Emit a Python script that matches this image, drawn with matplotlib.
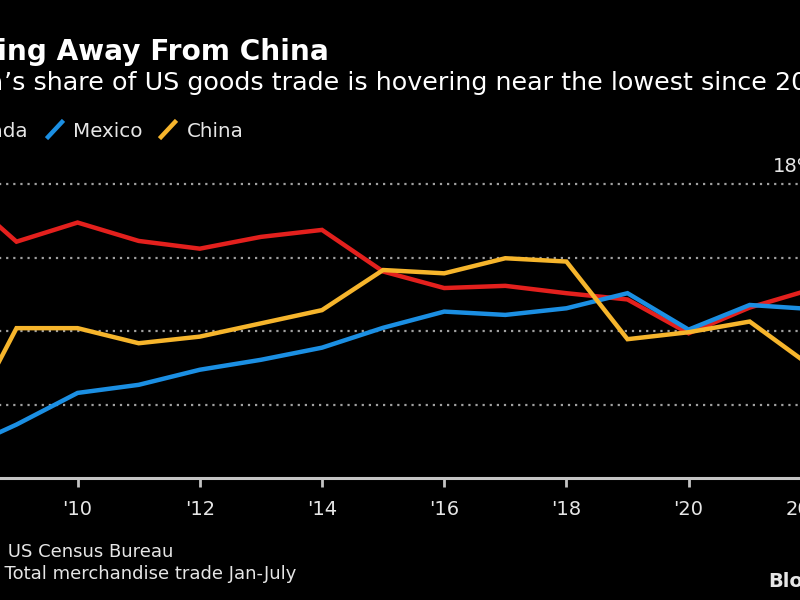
import matplotlib
matplotlib.use("Agg")
import matplotlib.pyplot as plt
from matplotlib.lines import Line2D

plt.rcParams['font.family'] = ['DejaVu Sans']

years = [2008, 2009, 2010, 2011, 2012, 2013, 2014, 2015, 2016, 2017, 2018, 2019, 2020, 2021, 2022]
canada = [17.9, 16.43, 16.95, 16.45, 16.24, 16.56, 16.75, 15.62, 15.17, 15.23, 15.03, 14.86, 13.94, 14.64, 15.13]
mexico = [10.7, 11.46, 12.32, 12.54, 12.95, 13.22, 13.55, 14.09, 14.53, 14.44, 14.62, 15.03, 14.04, 14.71, 14.6]
china = [10.9, 14.08, 14.08, 13.67, 13.85, 14.21, 14.57, 15.66, 15.57, 15.98, 15.89, 13.78, 13.97, 14.26, 13.05]

series = ['Canada', 'Mexico', 'China']
colors = ['#e3201d', '#1b8fe3', '#f6b52c']
xticks = [2010, 2012, 2014, 2016, 2018, 2020, 2022]
xlabels = ["'10", "'12", "'14", "'16", "'18", "'20", "2022"]
ygrid = [12, 14, 16, 18]

W, H = 800, 600
fig = plt.figure(figsize=(8, 6), dpi=100, facecolor='black')

# the picture is a crop: axes run past the figure edges
px_year = 61.1
x_left, x_right = 2008.6, 2022.4
left_px = 77.6 - (2010 - x_left) * px_year
right_px = 77.6 + (x_right - 2010) * px_year
bot_px = 478.3
px_pct = 36.8
y_lo, y_hi = 10, 18.4
top_px = bot_px - (y_hi - y_lo) * px_pct
ax = fig.add_axes([left_px / W, 1 - bot_px / H, (right_px - left_px) / W, (bot_px - top_px) / H])
ax.set_facecolor('black')
ax.set_xlim(x_left, x_right)
ax.set_ylim(y_lo, y_hi)

for yv in ygrid:
    ax.axhline(yv, color='#a0a0a0', lw=1.6, ls=(0, (1, 2.2)), zorder=1)

for vals, c in zip([canada, mexico, china], colors):
    ax.plot(years, vals, color=c, lw=3.2, solid_joinstyle='miter', zorder=3)

for s in ['top', 'right', 'left']:
    ax.spines[s].set_visible(False)
ax.spines['bottom'].set_color('#c4c4c4')
ax.spines['bottom'].set_linewidth(2.2)
ax.set_yticks([])
ax.set_xticks(xticks)
ax.set_xticklabels(xlabels)
ax.tick_params(axis='x', colors='#c4c4c4', length=6.5, width=2, pad=9,
               labelsize=14, labelcolor='#e6e6e6')

def ftext(x, y, s, **kw):
    fig.text(x / W, 1 - y / H, s, va='baseline', **kw)

ftext(329, 60, 'Shifting Away From China', ha='right', color='white',
      fontsize=20.2, fontweight='bold')
ftext(4, 90, 'China', ha='right', color='white', fontsize=18.3)
ftext(4, 90, '\u2019s share of US goods trade is hovering near the lowest since 2006',
      ha='left', color='white', fontsize=18.3)

# legend
ftext(28, 137, series[0], ha='right', color='#e6e6e6', fontsize=14.3)
fig.add_artist(Line2D([-70 / W, -62 / W], [1 - 138 / H, 1 - 121 / H], color=colors[0], lw=3.2))
ftext(73, 137, series[1], ha='left', color='#e6e6e6', fontsize=14.3)
fig.add_artist(Line2D([48 / W, 62 / W], [1 - 137 / H, 1 - 122 / H], color=colors[1], lw=3.2))
ftext(187, 137, series[2], ha='left', color='#e6e6e6', fontsize=14.3)
fig.add_artist(Line2D([161 / W, 175 / W], [1 - 137 / H, 1 - 122 / H], color=colors[2], lw=3.2))

ftext(773, 172, '18%', ha='left', color='#e6e6e6', fontsize=14)

ftext(173, 557, 'Source: US Census Bureau', ha='right', color='#e6e6e6', fontsize=13)
ftext(296, 579, 'Note: Total merchandise trade Jan-July', ha='right', color='#e6e6e6', fontsize=13)
ftext(768, 587, 'Bloomberg', ha='left', color='#e6e6e6', fontsize=14, fontweight='bold')

fig.savefig('out.png', dpi=100, facecolor='black')
